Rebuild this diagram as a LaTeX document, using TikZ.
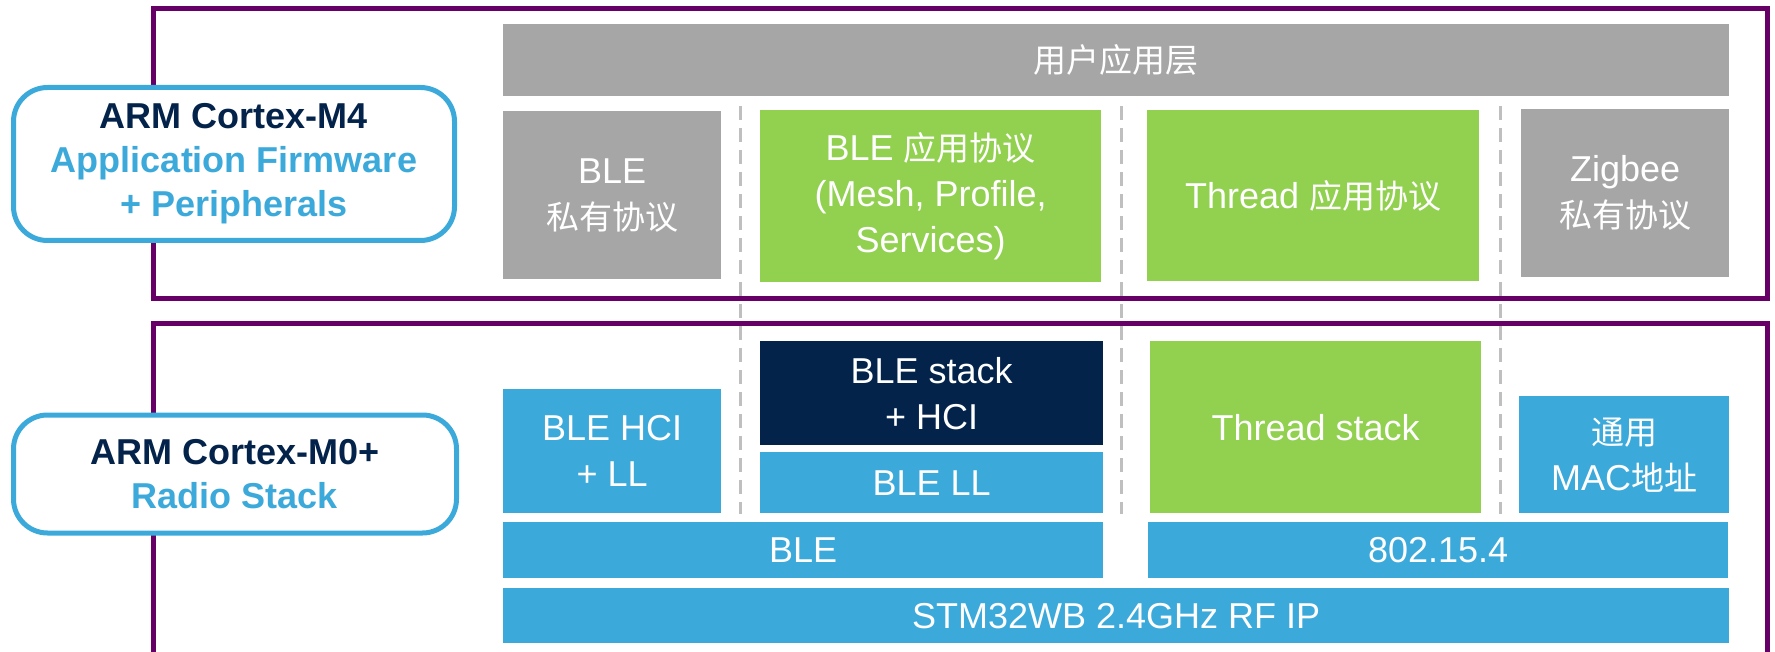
\documentclass[tikz,border=0pt]{standalone}
\usepackage{fontspec}
\setmainfont{Liberation Sans}
\newfontfamily\cjk{Noto Sans CJK SC}
\newcommand{\zh}[1]{{\cjk\fontsize{33}{46}\selectfont #1}}
\definecolor{stpurple}{RGB}{102,0,102}
\definecolor{stblue}{RGB}{60,169,219}
\definecolor{stnavy}{RGB}{3,35,75}
\definecolor{stgreen}{RGB}{146,208,80}
\definecolor{stgray}{RGB}{166,166,166}
\definecolor{divgray}{RGB}{191,191,191}

\begin{document}
\begin{tikzpicture}[x=1pt, y=-1pt,
			stackbox/.style={anchor=north west, inner sep=0pt, align=center, text=white,
				font=\fontsize{36}{46}\selectfont},
			corebox/.style={draw=stblue, line width=5pt, rounded corners=34pt, fill=white,
				align=center, inner sep=0pt, font=\bfseries\fontsize{36}{44}\selectfont},
			cpuframe/.style={draw=stpurple, line width=5pt},
			divider/.style={draw=divgray, line width=3pt, dash pattern=on 14pt off 8pt}]
	\useasboundingbox (0,0) rectangle (1775,652);

	\draw[cpuframe] (153,9) rectangle (1767,299);
	\draw[cpuframe] (153,660) |- (1767,324) -- (1767,660);

	\foreach \x in {740,1121.5,1500}
		\draw[divider] (\x,106) -- (\x,514);

	\begin{scope}[nodes={stackbox}]
		\node[fill=stgray, minimum width=1226, minimum height=72] (userapp) at (503,24) {\zh{用户应用层}};
		\node[fill=stgray, minimum width=218, minimum height=168] (bleown) at (503,111) {BLE\\\zh{私有协议}};
		\node[fill=stgreen, minimum width=341, minimum height=172] (bleapp) at (760,110)
			{BLE \zh{应用协议}\\(Mesh, Profile,\\Services)};
		\node[fill=stgreen, minimum width=332, minimum height=171] (threadapp) at (1147,110) {Thread \zh{应用协议}};
		\node[fill=stgray, minimum width=208, minimum height=168] (zbown) at (1521,109) {Zigbee\\\zh{私有协议}};

		\node[fill=stblue, minimum width=218, minimum height=124] (hcill) at (503,389) {BLE HCI\\+ LL};
		\node[fill=stnavy, minimum width=343, minimum height=104] (blestack) at (760,341) {BLE stack\\+ HCI};
		\node[fill=stblue, minimum width=343, minimum height=61] (blell) at (760,452) {BLE LL};
		\node[fill=stgreen, minimum width=331, minimum height=172] (threadstack) at (1150,341) {Thread stack};
		\node[fill=stblue, minimum width=210, minimum height=117] (mac) at (1519,396) {\zh{通用}\\MAC\zh{地址}};
		\node[fill=stblue, minimum width=600, minimum height=56] (ble) at (503,522) {BLE};
		\node[fill=stblue, minimum width=580, minimum height=56] (ieee) at (1148,522) {802.15.4};
		\node[fill=stblue, minimum width=1226, minimum height=55] (rfip) at (503,588) {STM32WB 2.4GHz RF IP};
	\end{scope}

	\node[corebox, minimum width=441, minimum height=153] (m4) at (234,164)
		{\textcolor{stnavy}{ARM Cortex-M4}\\\textcolor{stblue}{Application Firmware}\\\textcolor{stblue}{+ Peripherals}};
	\node[corebox, minimum width=443, minimum height=118] (m0) at (235,474)
		{\textcolor{stnavy}{ARM Cortex-M0+}\\\textcolor{stblue}{Radio Stack}};
\end{tikzpicture}
\end{document}
